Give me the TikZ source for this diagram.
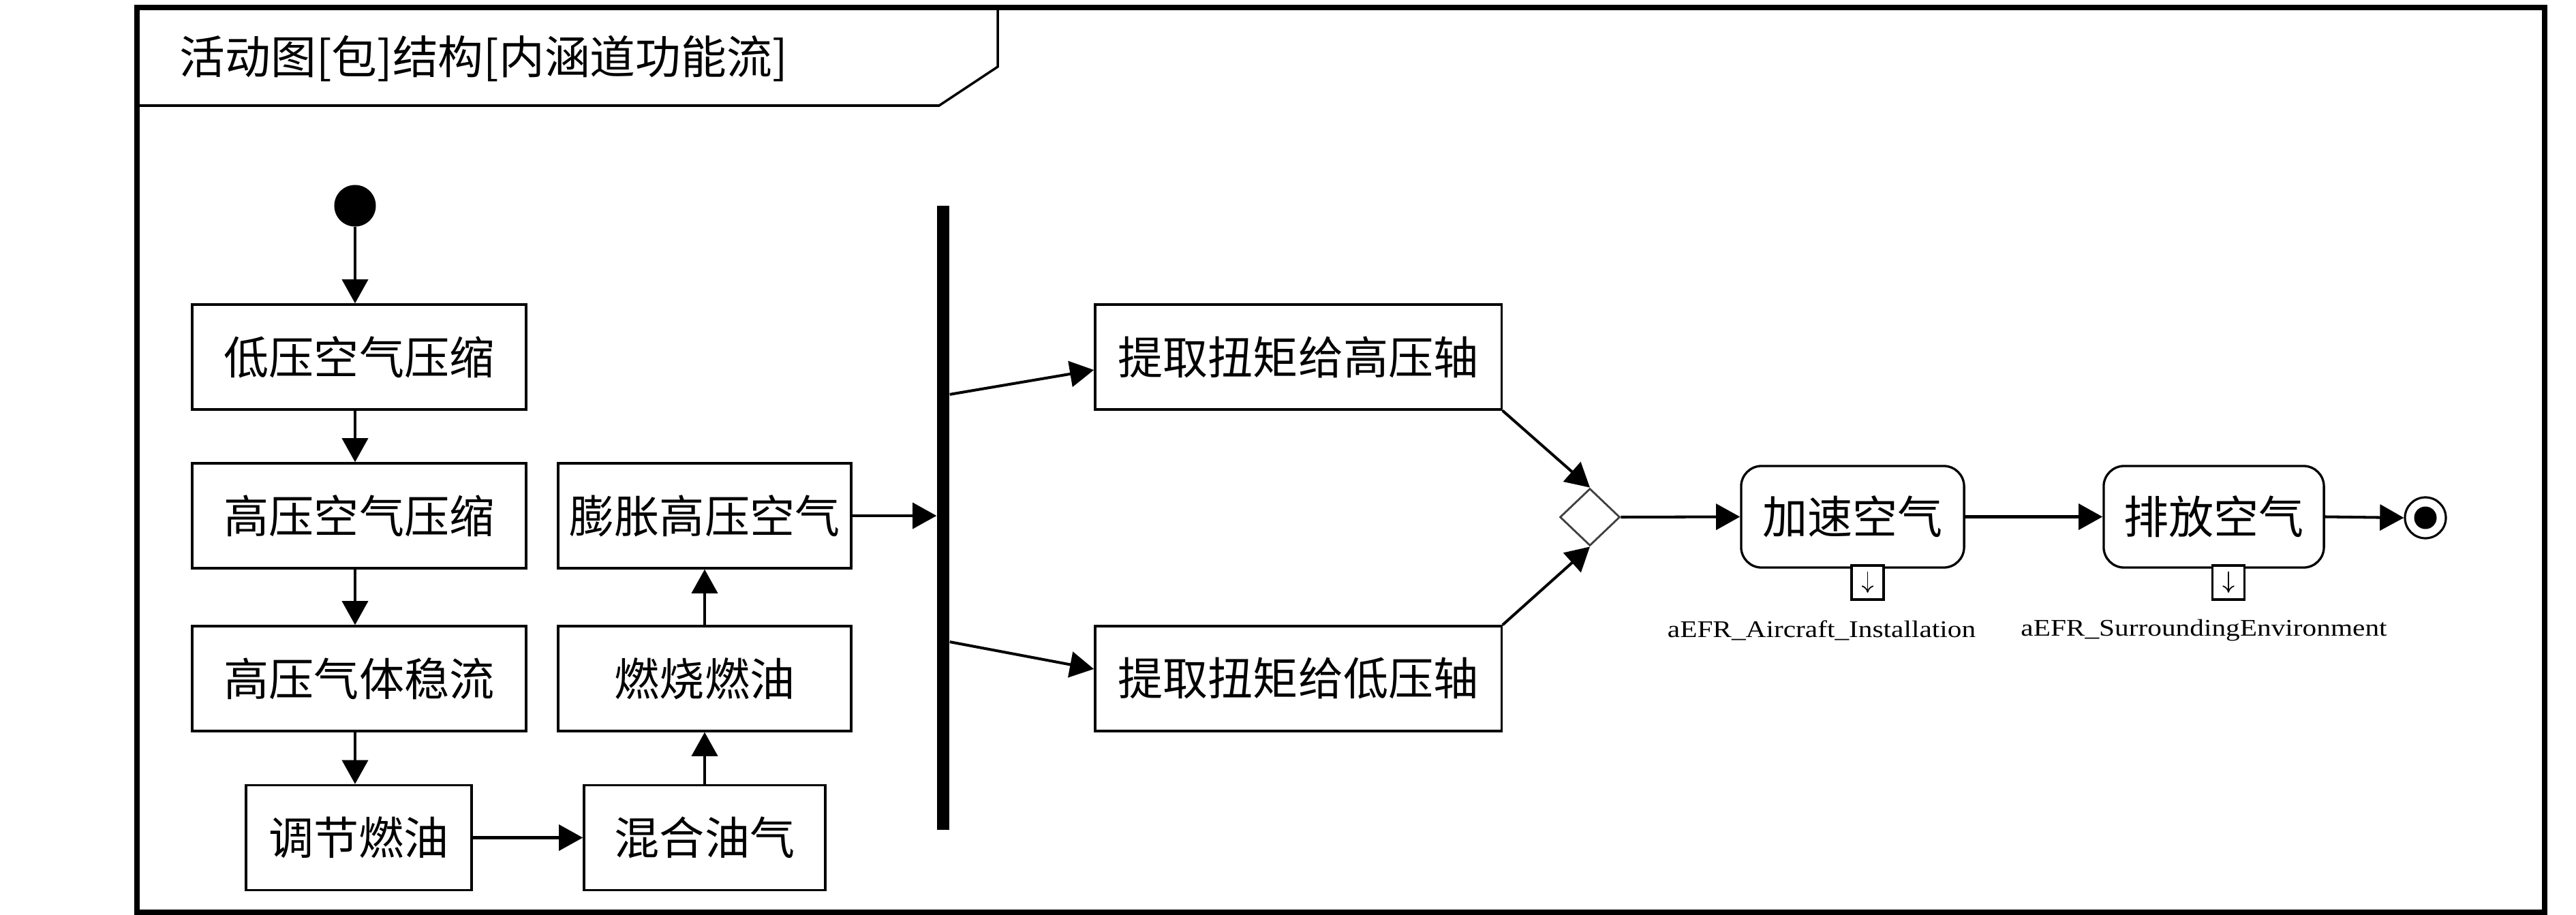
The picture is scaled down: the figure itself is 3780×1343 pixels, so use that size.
\documentclass[tikz,border=0pt]{standalone}
\usepackage{fontspec}
\setmainfont{Liberation Serif}
\newfontfamily\cjk{Noto Sans CJK SC}
\usetikzlibrary{arrows.meta,shapes.geometric,calc}
\tikzset{
  act/.style={draw, line width=0.95pt, rectangle, inner sep=0pt, minimum height=1.54cm,
    font=\cjk\fontsize{18.8}{22}\selectfont},
  ract/.style={act, rounded corners=0.3cm, minimum height=1.49cm},
  flow/.style={line width=1.15pt, -{Triangle[length=10pt,width=10.8pt]}},
  pinbox/.style={draw, line width=1.1pt, fill=white, inner sep=0pt, minimum width=0.47cm, minimum height=0.5cm},
  pinlabel/.style={inner sep=0pt, font=\fontsize{9.96}{12}\selectfont},
}
\begin{document}
\begin{tikzpicture}[x=0.01cm,y=-0.01cm]
\useasboundingbox[fill=white] (0,0) rectangle (3780,1343);
% frame
\draw[line width=2.3pt] (201,11) rectangle (3734,1339);
\draw[line width=1pt] (201,155) -- (1378,155) -- (1464,98) -- (1464,11);
\node[anchor=west, inner sep=0pt, font=\cjk\fontsize{19}{22}\selectfont] (title) at (263,86) {活动图[包]结构[内涵道功能流]};

% nodes
\node[circle, fill=black, inner sep=0pt, minimum size=0.61cm] (start) at (521,302) {};
\node[act, minimum width=4.90cm] (b1) at (527,524) {低压空气压缩};
\node[act, minimum width=4.90cm] (b2) at (527,757) {高压空气压缩};
\node[act, minimum width=4.90cm] (b3) at (527,996) {高压气体稳流};
\node[act, minimum width=3.31cm] (b4) at (526.5,1229.5) {调节燃油};
\node[act, minimum width=3.54cm] (b5) at (1034,1229.5) {混合油气};
\node[act, minimum width=4.30cm] (b6) at (1034,996) {燃烧燃油};
\node[act, minimum width=4.30cm] (b7) at (1034,757) {膨胀高压空气};
\node[fill=black, inner sep=0pt, minimum width=0.18cm, minimum height=9.16cm] (bar) at (1384,760) {};
\node[act, minimum width=5.96cm] (b8) at (1905,524) {\makebox[5.28cm]{提\hfill 取\hfill 扭\hfill 矩\hfill 给\hfill 高\hfill 压\hfill 轴}};
\node[act, minimum width=5.96cm] (b9) at (1905,996) {\makebox[5.28cm]{提\hfill 取\hfill 扭\hfill 矩\hfill 给\hfill 低\hfill 压\hfill 轴}};
\node[diamond, draw=black!75, line width=0.8pt, inner sep=0pt, minimum width=0.88cm, minimum height=0.84cm] (dia) at (2333,759) {};
\node[ract, minimum width=3.27cm] (r1) at (2718.5,758.5) {加速空气};
\node[ract, minimum width=3.23cm] (r2) at (3248.5,758.5) {排放空气};
\node[pinbox] (p1) at (2740.5,855) {};
\node[pinbox] (p2) at (3270,855) {};
\node[pinlabel] (l1) at (2673,925) {\scalebox{1.18}[1]{aEFR\_Aircraft\_Installation}};
\node[pinlabel] (l2) at (3234,925) {\scalebox{1.18}[1]{aEFR\_SurroundingEnvironment}};
\node[circle, draw, line width=0.9pt, inner sep=0pt, minimum size=0.60cm] (end) at (3559,760) {};
\node[circle, fill=black, inner sep=0pt, minimum size=0.33cm] (endin) at (end) {};

% pin arrows
\draw[line width=0.5pt, -{To[length=3pt,width=5pt]}] ([yshift=-0.11cm]p1.north) -- ([yshift=0.12cm]p1.south);
\draw[line width=0.5pt, -{To[length=3pt,width=5pt]}] ([yshift=-0.11cm]p2.north) -- ([yshift=0.12cm]p2.south);

% connectors
\draw[flow] (start.south) -- (start |- b1.north);
\draw[flow] (b1.south -| start) -- (b2.north -| start);
\draw[flow] (b2.south -| start) -- (b3.north -| start);
\draw[flow] (b3.south -| start) -- (b4.north -| start);
\draw[flow] (b4.east) -- (b5.west);
\draw[flow] (b5.north) -- (b6.south);
\draw[flow] (b6.north) -- (b7.south);
\draw[flow] (b7.east) -- (b7.east -| bar.west);
\draw[flow] ([yshift=1.81cm]bar.east) -- ([yshift=-0.19cm]b8.west);
\draw[flow] ([yshift=-1.82cm]bar.east) -- ([yshift=0.14cm]b9.west);
\draw[flow] (b8.south east) -- (dia.north);
\draw[flow] (b9.north east) -- (dia.south);
\draw[flow] (dia.east) -- (r1.west);
\draw[flow] (r1.east) -- (r2.west);
\draw[flow] (r2.east) -- (end.west);
\end{tikzpicture}
\end{document}
